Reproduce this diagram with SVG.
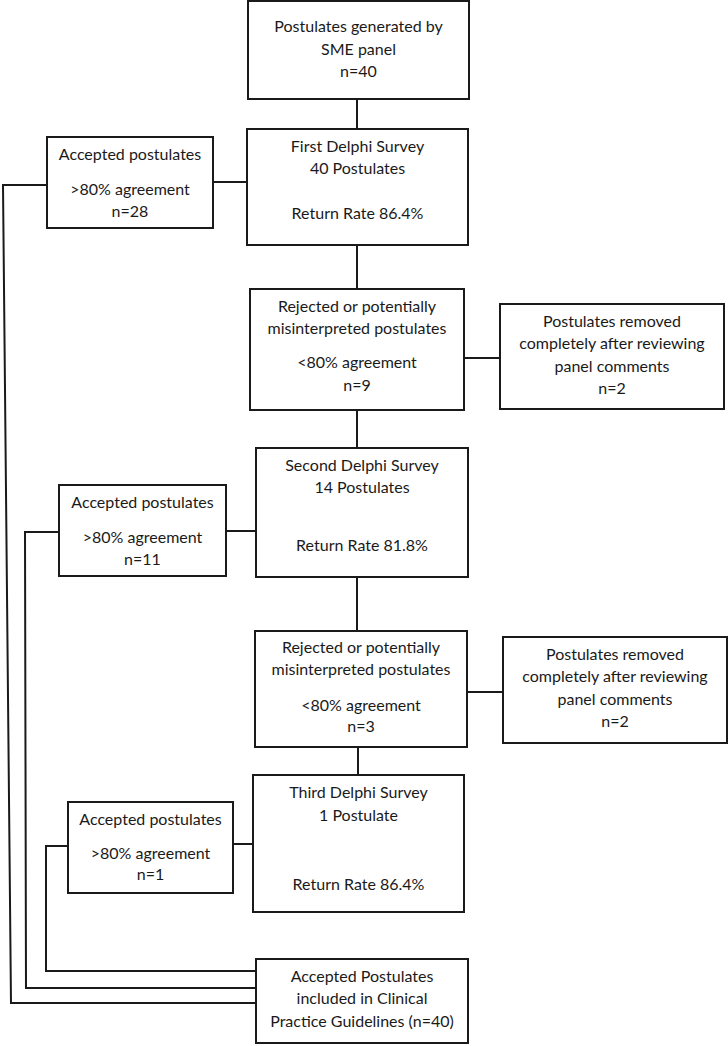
<svg xmlns="http://www.w3.org/2000/svg" width="728" height="1046" viewBox="0 0 728 1046">
<style>
.box{fill:#fff;stroke:#1a1a1a;stroke-width:2}
.t{font-family:Lato,"Liberation Sans",sans-serif;font-size:16px;fill:#1a1a1a;text-anchor:middle}
.c{fill:none;stroke:#1a1a1a;stroke-width:2}
</style>
<rect width="728" height="1046" fill="#fff"/>
<g id="connectors">
<path class="c" d="M357,99V129"/>
<path class="c" d="M213,182H247"/>
<path class="c" d="M357,245V289"/>
<path class="c" d="M464,358H500"/>
<path class="c" d="M357,410V448"/>
<path class="c" d="M226,531H256"/>
<path class="c" d="M357,577V631"/>
<path class="c" d="M467,692H503"/>
<path class="c" d="M358,747V775"/>
<path class="c" d="M233,844H253"/>
<path class="c" d="M47,185H3L11,1003H256"/>
<path class="c" d="M59,532H25L26,988H256"/>
<path class="c" d="M68,846H46V971H256"/>
</g>
<g id="sme">
<rect class="box" x="248" y="1" width="221" height="98"/>
<text class="t" x="358.5" y="32">Postulates generated by</text>
<text class="t" x="358.5" y="55">SME panel</text>
<text class="t" x="358.5" y="77">n=40</text>
</g>
<g id="first">
<rect class="box" x="247" y="129" width="221" height="116"/>
<text class="t" x="357.5" y="152">First Delphi Survey</text>
<text class="t" x="357.5" y="174">40 Postulates</text>
<text class="t" x="357.5" y="219">Return Rate 86.4%</text>
</g>
<g id="accepted1">
<rect class="box" x="47" y="137" width="166" height="91"/>
<text class="t" x="130" y="160">Accepted postulates</text>
<text class="t" x="130" y="195">&gt;80% agreement</text>
<text class="t" x="130" y="217">n=28</text>
</g>
<g id="rejected1">
<rect class="box" x="250" y="289" width="214" height="121"/>
<text class="t" x="357" y="312">Rejected or potentially</text>
<text class="t" x="357" y="334">misinterpreted postulates</text>
<text class="t" x="357" y="368">&lt;80% agreement</text>
<text class="t" x="357" y="391">n=9</text>
</g>
<g id="removed1">
<rect class="box" x="500" y="304" width="224" height="105"/>
<text class="t" x="612" y="327">Postulates removed</text>
<text class="t" x="612" y="349">completely after reviewing</text>
<text class="t" x="612" y="372">panel comments</text>
<text class="t" x="612" y="394">n=2</text>
</g>
<g id="second">
<rect class="box" x="256" y="448" width="212" height="129"/>
<text class="t" x="362" y="471">Second Delphi Survey</text>
<text class="t" x="362" y="493">14 Postulates</text>
<text class="t" x="362" y="551">Return Rate 81.8%</text>
</g>
<g id="accepted2">
<rect class="box" x="59" y="485" width="167" height="91"/>
<text class="t" x="142.5" y="508">Accepted postulates</text>
<text class="t" x="142.5" y="543">&gt;80% agreement</text>
<text class="t" x="142.5" y="565">n=11</text>
</g>
<g id="rejected2">
<rect class="box" x="255" y="631" width="212" height="116"/>
<text class="t" x="361" y="653">Rejected or potentially</text>
<text class="t" x="361" y="675">misinterpreted postulates</text>
<text class="t" x="361" y="711">&lt;80% agreement</text>
<text class="t" x="361" y="732">n=3</text>
</g>
<g id="removed2">
<rect class="box" x="503" y="637" width="224" height="106"/>
<text class="t" x="615" y="660">Postulates removed</text>
<text class="t" x="615" y="682">completely after reviewing</text>
<text class="t" x="615" y="705">panel comments</text>
<text class="t" x="615" y="727">n=2</text>
</g>
<g id="third">
<rect class="box" x="253" y="775" width="211" height="137"/>
<text class="t" x="358.5" y="798">Third Delphi Survey</text>
<text class="t" x="358.5" y="821">1 Postulate</text>
<text class="t" x="358.5" y="890">Return Rate 86.4%</text>
</g>
<g id="accepted3">
<rect class="box" x="68" y="802" width="165" height="91"/>
<text class="t" x="150.5" y="825">Accepted postulates</text>
<text class="t" x="150.5" y="859">&gt;80% agreement</text>
<text class="t" x="150.5" y="880">n=1</text>
</g>
<g id="final">
<rect class="box" x="256" y="959" width="212" height="84"/>
<text class="t" x="362" y="982">Accepted Postulates</text>
<text class="t" x="362" y="1004">included in Clinical</text>
<text class="t" x="362" y="1027">Practice Guidelines (n=40)</text>
</g>
</svg>
